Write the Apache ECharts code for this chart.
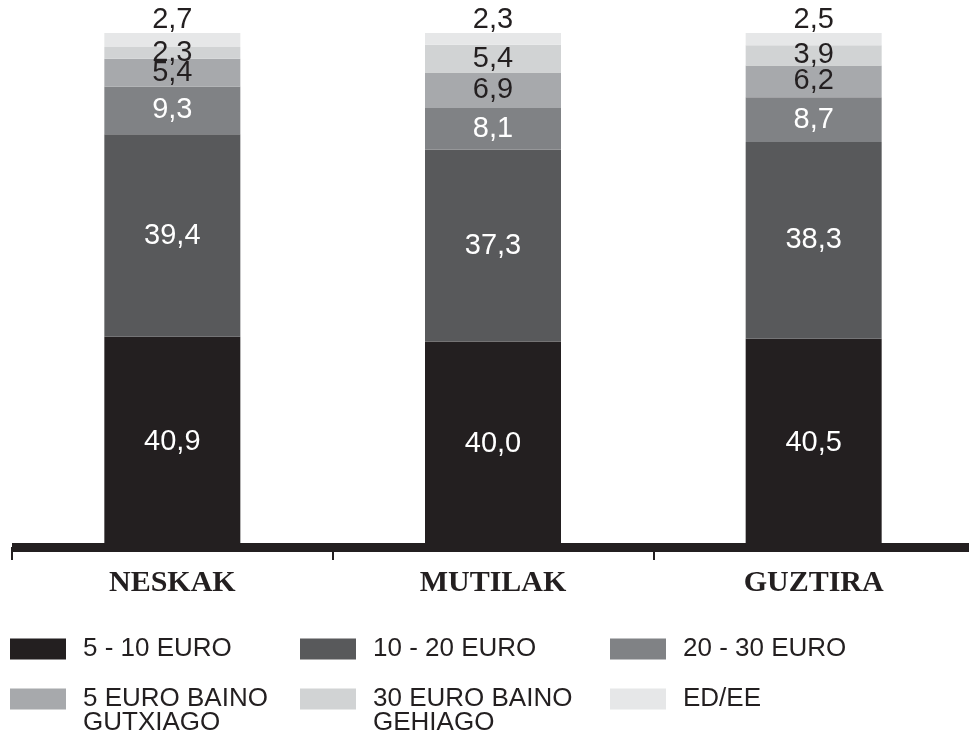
<!DOCTYPE html>
<html>
<head>
<meta charset="utf-8">
<script src="https://cdn.jsdelivr.net/npm/echarts@6/dist/echarts.min.js"></script>
<style>
  html, body { margin: 0; padding: 0; background: #fff; }
  #chart { width: 969px; height: 743px; }
</style>
</head>
<body>
<div id="chart"></div>
<script>
const categories = ['NESKAK', 'MUTILAK', 'GUZTIRA']
const seriesNames = ['5 - 10 EURO', '10 - 20 EURO', '20 - 30 EURO', '5 EURO BAINO GUTXIAGO', '30 EURO BAINO GEHIAGO', 'ED/EE']
const legendLabels = ['5 - 10 EURO', '10 - 20 EURO', '20 - 30 EURO', '5 EURO BAINO\nGUTXIAGO', '30 EURO BAINO\nGEHIAGO', 'ED/EE']

const euro5to10 = [40.9, 40.0, 40.5]
const euro10to20 = [39.4, 37.3, 38.3]
const euro20to30 = [9.3, 8.1, 8.7]
const under5 = [5.4, 6.9, 6.2]
const over30 = [2.3, 5.4, 3.9]
const noAnswer = [2.7, 2.3, 2.5]

const seriesValues = [euro5to10, euro10to20, euro20to30, under5, over30, noAnswer]
const colors = ['#231f20', '#58595b', '#808285', '#a7a9ac', '#d1d3d4', '#e6e7e8']
const labelColors = ['#fff', '#fff', '#fff', '#231f20', '#231f20', '#231f20']

// legend slots: [left, top] for each item, 3 columns x 2 rows
const legendPos = [[10, 636], [300, 636], [610, 636], [10, 662], [300, 662], [610, 686]]

const chart = echarts.init(document.getElementById('chart'))

const fmt = (v) => v.toFixed(1).replace('.', ',')

chart.setOption({
  animation: false,
  backgroundColor: '#fff',
  grid: { left: 12, width: 962, top: 33, bottom: 196, outerBoundsMode: 'none' },
  xAxis: {
    type: 'category',
    data: categories,
    axisLine: { lineStyle: { color: '#231f20', width: 9, cap: 'butt' } },
    axisTick: { show: true, length: 13, lineStyle: { color: '#231f20', width: 2 } },
    axisLabel: {
      margin: 21,
      color: '#231f20',
      fontFamily: 'Liberation Serif',
      fontWeight: 'bold',
      fontSize: 30,
    },
  },
  yAxis: { type: 'value', min: 0, max: 100, show: false },
  legend: seriesNames.map((name, i) => ({
    data: [name],
    left: legendPos[i][0],
    top: legendPos[i][1],
    padding: 0,
    icon: 'rect',
    itemWidth: 56,
    itemHeight: 21,
    selectedMode: false,
    // two-line labels get an empty first line so the first text line sits beside the swatch
    formatter: () => (legendLabels[i].includes('\n') ? ' \n' : '') + legendLabels[i],
    textStyle: {
      color: '#231f20',
      fontFamily: 'Liberation Sans',
      fontSize: 26,
      lineHeight: 24,
      padding: [0, 0, 0, 12],
    },
  })),
  series: seriesNames.map((name, i) => ({
    name,
    type: 'bar',
    stack: 'total',
    barWidth: 136,
    data: seriesValues[i],
    itemStyle: { color: colors[i] },
    label: {
      show: true,
      position: i === seriesNames.length - 1 ? 'top' : 'inside',
      distance: -1,
      color: labelColors[i],
      fontFamily: 'Liberation Sans',
      fontSize: 29,
      formatter: (p) => fmt(p.value),
    },
  })),
})
</script>
</body>
</html>
